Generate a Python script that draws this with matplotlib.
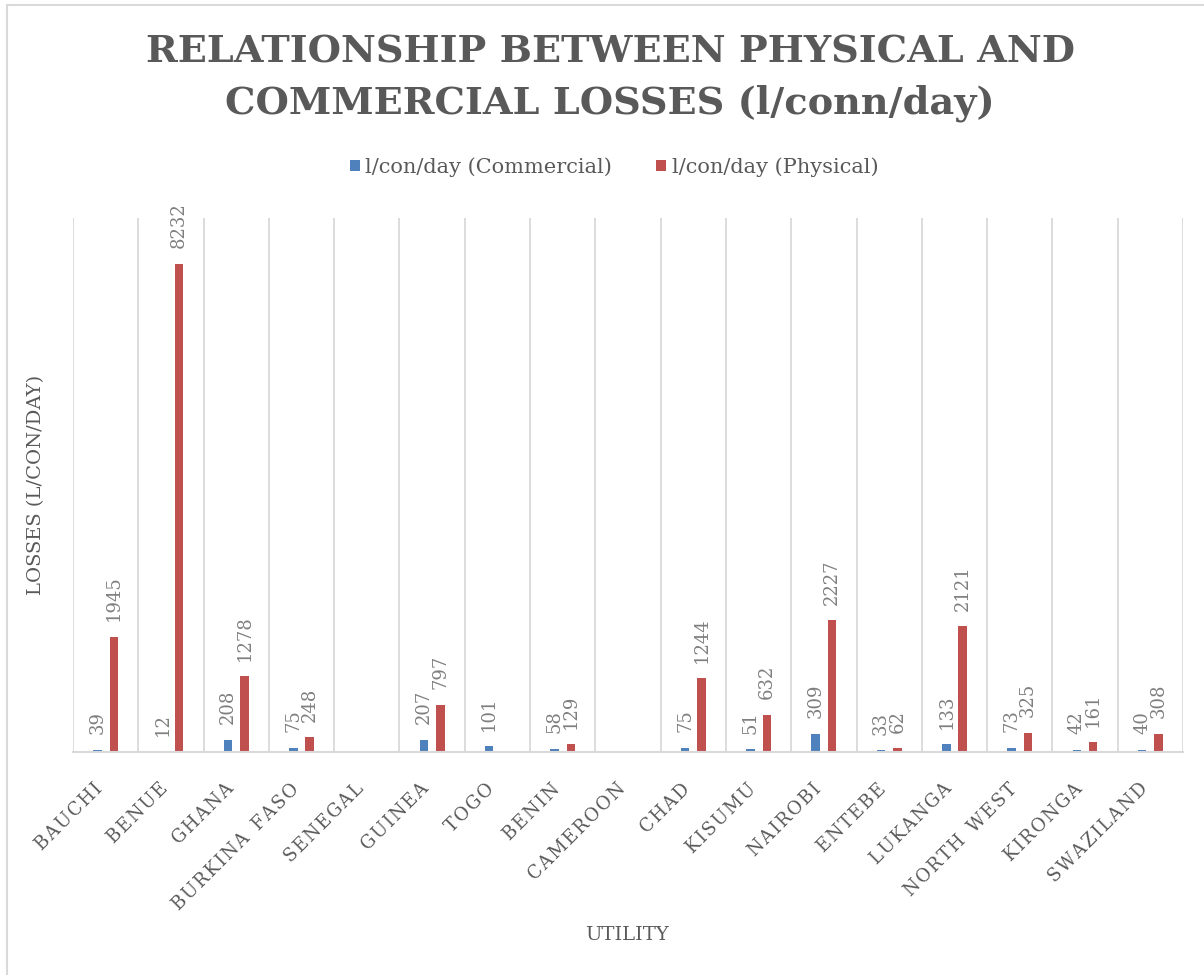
import numpy as np
import matplotlib.pyplot as plt
import matplotlib.transforms as mtransforms
from matplotlib.patches import Rectangle

# data
utilities = ['BAUCHI', 'BENUE', 'GHANA', 'BURKINA FASO', 'SENEGAL', 'GUINEA', 'TOGO',
             'BENIN', 'CAMEROON', 'CHAD', 'KISUMU', 'NAIROBI', 'ENTEBE', 'LUKANGA',
             'NORTH WEST', 'KIRONGA', 'SWAZILAND']
commercial = [39, 12, 208, 75, np.nan, 207, 101, 58, np.nan, 75, 51, 309, 33, 133, 73, 42, 40]
physical = [1945, 8232, 1278, 248, np.nan, 797, np.nan, 129, np.nan, 1244, 632, 2227, 62, 2121, 325, 161, 308]

blue = '#4F81BD'
red = '#C0504D'
grey_txt = '#595959'
lbl_txt = '#7F7F7F'
grid_c = '#D9D9D9'
serif = 'DejaVu Serif'

W, H = 1204, 975
fig = plt.figure(figsize=(W / 100, H / 100), dpi=100)

# light frame of the chart object (runs off the right and bottom edge)
fig.patches.append(Rectangle((7 / W, -0.1), 1.2, 1 - 5 / H + 0.1, transform=fig.transFigure,
                             fill=False, edgecolor=grid_c, linewidth=1.5))

ax = fig.add_axes([73 / W, 1 - 752 / H, (1183 - 73) / W, (752 - 218) / H])
x = np.arange(len(utilities))
ax.bar(x - 0.125, commercial, width=0.13, color=blue, label='l/con/day (Commercial)')
ax.bar(x + 0.125, physical, width=0.13, color=red, label='l/con/day (Physical)')

# data labels above the bars
for xs, vals in ((x - 0.125, commercial), (x + 0.125, physical)):
    for xi, v in zip(xs, vals):
        if np.isnan(v):
            continue
        ax.annotate(f'{v:.0f}', (xi, v), xytext=(0, 11), textcoords='offset points',
                    rotation=90, ha='center', va='bottom', color=lbl_txt,
                    fontsize=13, family=serif)

ax.set_xlim(-0.5, len(utilities) - 0.5)
ax.set_ylim(0, 9000)
ax.set_yticks([])
# vertical lines between categories
for b in np.arange(-0.5, len(utilities), 1.0):
    ax.axvline(b, color=grid_c, linewidth=1.3, zorder=0)
for s in ['top', 'right', 'left']:
    ax.spines[s].set_visible(False)
ax.spines['bottom'].set_color(grid_c)
ax.spines['bottom'].set_linewidth(1.5)

# spaced out upper case tick labels
ax.set_xticks(x)
spaced = ['\u200a'.join(list(u)).replace('\u200a \u200a', '  ') for u in utilities]
ax.set_xticklabels(spaced, rotation=45, ha='right', rotation_mode='anchor',
                   fontsize=13, family=serif, color=grey_txt)
ax.tick_params(axis='x', length=0, pad=20)
shift = mtransforms.ScaledTranslation(-0.12, 0, fig.dpi_scale_trans)
for t in ax.get_xticklabels():
    t.set_transform(t.get_transform() + shift)

ax.set_ylabel('LOSSES (L/CON/DAY)', fontsize=14, family=serif, color=grey_txt, labelpad=20)
fig.text(627 / W, 1 - 935 / H, 'UTILITY', ha='center', va='center', fontsize=14,
         family=serif, color=grey_txt)

fig.text(610 / W, 1 - 52 / H, 'RELATIONSHIP BETWEEN PHYSICAL AND', ha='center', va='center',
         fontsize=27.5, fontweight='bold', family=serif, color=grey_txt)
fig.text(610 / W, 1 - 103 / H, 'COMMERCIAL LOSSES (l/conn/day)', ha='center', va='center',
         fontsize=27.5, fontweight='bold', family=serif, color=grey_txt)

fig.legend(loc='center', bbox_to_anchor=(614 / W, 1 - 167 / H), ncol=2, frameon=False,
           handlelength=0.5, handleheight=0.5, handletextpad=0.25, columnspacing=2.1,
           prop={'family': serif, 'size': 15}, labelcolor=grey_txt)

fig.savefig('out.png', dpi=100)
